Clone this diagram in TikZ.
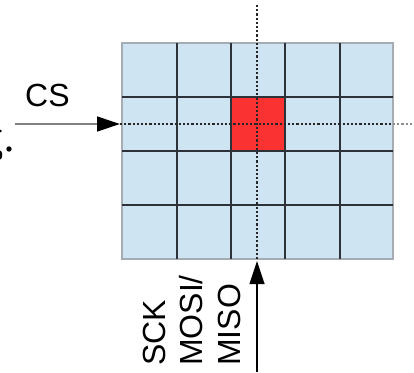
\documentclass[tikz,border=0pt]{standalone}
\usepackage{fontspec}
\setmainfont{Liberation Sans}
\usetikzlibrary{arrows.meta}
\definecolor{cellblue}{RGB}{207,228,242}
\definecolor{gridline}{RGB}{45,50,58}
\definecolor{borderline}{RGB}{165,172,180}
\definecolor{redcell}{RGB}{250,50,50}
\begin{document}
\begin{tikzpicture}[x=1pt,y=-1pt,
  gridstroke/.style={draw=gridline,line width=1.8pt},
  dotline/.style={draw=black!85,line width=1.8pt,dash pattern=on 2.2pt off 2pt},
  dotlight/.style={draw=black!45,line width=1.4pt,dash pattern=on 2.2pt off 2pt},
  lbl/.style={inner sep=0pt,font=\fontsize{32}{38}\selectfont},
  sig/.style={-{Triangle[length=23pt,width=15pt,color=black]}}
]
\useasboundingbox (0,0) rectangle (414,372);
% cells
\fill[cellblue] (122,43) rectangle (393,259);
\fill[redcell] (231,97) rectangle (285,151);
\draw[borderline,line width=1.4pt] (122,43) rectangle (393,259);
\foreach \x in {177,231,285,340} \draw[gridstroke] (\x,43) -- (\x,259);
\foreach \y in {97,151,205} \draw[gridstroke] (122,\y) -- (393,\y);
% dotted crosshair
\coordinate (vtop) at (257,5);
\coordinate (vbot) at (257,259);
\coordinate (hleft) at (120,124);
\coordinate (hin) at (393,124);
\coordinate (hright) at (413,124);
\draw[dotline] (vtop) -- (vbot);
\draw[dotline] (hleft) -- (hin);
\draw[dotlight] (hin) -- (hright);
% signal arrows
\coordinate (csstart) at (15,124);
\coordinate (csend) at (120,124);
\draw[sig,draw=black!50,line width=1.3pt] (csstart) -- (csend);
\coordinate (sckstart) at (257,372);
\coordinate (sckend) at (257,261);
\draw[sig,draw=black,line width=1.2pt] (sckstart) -- (sckend);
% labels
\node[lbl,anchor=base west] (cs) at (25,106) {CS};
\node[lbl,anchor=base west,rotate=90] (sck) at (165,366) {SCK};
\node[lbl,anchor=base west,rotate=90] (mosi) at (202,366) {MOSI/};
\node[lbl,anchor=base west,rotate=90] (miso) at (240,366) {MISO};
% cut-off fragments at left edge
\fill (9,149) circle (2.7);
\fill (0,155) ellipse (2.3 and 4.5);
\fill (0.5,131) circle (1.3);
\end{tikzpicture}
\end{document}
